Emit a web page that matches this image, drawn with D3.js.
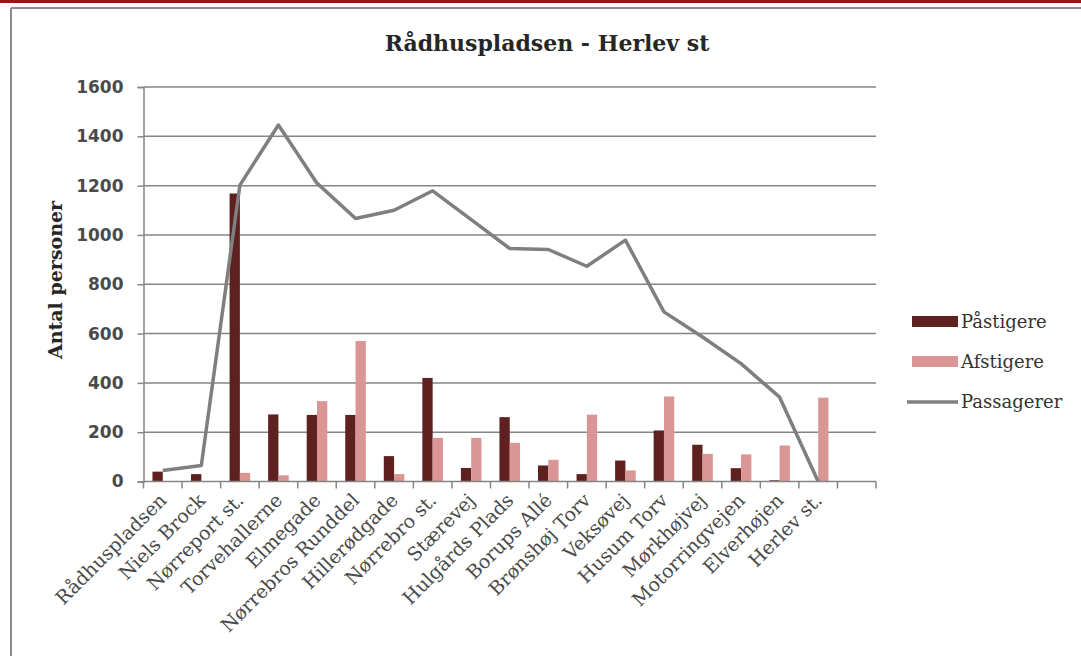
<!DOCTYPE html>
<html>
<head>
<meta charset="utf-8">
<script src="https://cdn.jsdelivr.net/npm/d3@7"></script>
<style>
  body { margin: 0; background: #fff; }
  svg { display: block; }
</style>
</head>
<body>
<script>
// Chart data
const stops = ["Rådhuspladsen", "Niels Brock", "Nørreport st.", "Torvehallerne", "Elmegade",
  "Nørrebros Runddel", "Hillerødgade", "Nørrebro st.", "Stærevej", "Hulgårds Plads",
  "Borups Allé", "Brønshøj Torv", "Veksøvej", "Husum Torv", "Mørkhøjvej",
  "Motorringvejen", "Elverhøjen", "Herlev st.", ""];
const paastigere = [40, 30, 1168, 272, 270, 270, 103, 420, 55, 261, 65, 30, 85, 207, 149, 54, 5, 0, null];
const afstigere = [0, 0, 35, 25, 326, 570, 30, 177, 177, 157, 88, 271, 45, 345, 112, 110, 146, 340, null];
const passagerer = [45, 65, 1202, 1446, 1210, 1067, 1100, 1179, 1062, 945, 941, 873, 979, 688, 586, 478, 342, 0];
const yTicks = [0, 200, 400, 600, 800, 1000, 1200, 1400, 1600];
const seriesNames = ["Påstigere", "Afstigere", "Passagerer"];

const width = 1081;
const height = 656;
const colors = { p: "#5f2020", a: "#d99694", line: "#7f7f7f" };

const svg = d3.select("body")
  .append("svg")
  .attr("width", width)
  .attr("height", height);

// page frame: red band on top, grey box
svg.append("rect").attr("x", 0).attr("y", 0).attr("width", width).attr("height", 3).attr("fill", "#9a1414");
svg.append("line").attr("x1", 11).attr("x2", width).attr("y1", 8).attr("y2", 8)
  .attr("stroke", "#8a8a8a").attr("stroke-width", 2);
svg.append("line").attr("x1", 11).attr("x2", 11).attr("y1", 8).attr("y2", height)
  .attr("stroke", "#8a8a8a").attr("stroke-width", 2);

// Scales
const plotLeft = 143.5, plotRight = 876, plotTop = 87, plotBottom = 481.5;
const x = d3.scaleBand().domain(d3.range(stops.length)).range([plotLeft, plotRight]).padding(0);
const bw = x.bandwidth();
const xSub = d3.scaleBand().domain(["p", "a"]).range([bw / 2 - 10.3, bw / 2 + 10.3]);
const y = d3.scaleLinear().domain([0, 1600]).range([plotBottom, plotTop]);

// Gridlines
svg.append("g")
  .selectAll("line")
  .data(yTicks.filter(d => d > 0))
  .enter()
  .append("line")
  .attr("x1", plotLeft)
  .attr("x2", plotRight)
  .attr("y1", d => y(d))
  .attr("y2", d => y(d))
  .attr("stroke", "#858585")
  .attr("stroke-width", 1.5);

// Y axis
const yAxis = svg.append("g")
  .attr("transform", `translate(${plotLeft},0)`)
  .call(d3.axisLeft(y).tickValues(yTicks).tickFormat(d3.format("d")).tickSize(6).tickPadding(14));
yAxis.select(".domain").attr("stroke", "#858585").attr("stroke-width", 1.5);
yAxis.selectAll(".tick line").attr("stroke", "#858585").attr("stroke-width", 1.5);
yAxis.selectAll(".tick text")
  .attr("font-family", "DejaVu Sans")
  .attr("font-weight", "bold")
  .attr("font-size", 17)
  .attr("fill", "#4a4a4a");

// Bars
const groups = svg.append("g")
  .selectAll("g")
  .data(stops.map((s, i) => ({ i, p: paastigere[i], a: afstigere[i] })))
  .enter()
  .append("g")
  .attr("transform", d => `translate(${x(d.i)},0)`);

groups.selectAll("rect")
  .data(d => ["p", "a"].filter(k => d[k] != null).map(k => ({ k, v: d[k] })))
  .enter()
  .append("rect")
  .attr("x", d => xSub(d.k))
  .attr("width", xSub.bandwidth())
  .attr("y", d => y(d.v))
  .attr("height", d => plotBottom - y(d.v))
  .attr("fill", d => colors[d.k]);

// X axis with ticks between categories
const xAxis = svg.append("g");
xAxis.append("line")
  .attr("x1", plotLeft).attr("x2", plotRight)
  .attr("y1", plotBottom).attr("y2", plotBottom)
  .attr("stroke", "#858585").attr("stroke-width", 1.5);
xAxis.selectAll(".xt")
  .data(d3.range(stops.length + 1))
  .enter()
  .append("line")
  .attr("class", "xt")
  .attr("x1", d => plotLeft + d * bw)
  .attr("x2", d => plotLeft + d * bw)
  .attr("y1", plotBottom)
  .attr("y2", plotBottom + 7)
  .attr("stroke", "#858585")
  .attr("stroke-width", 1.5);

xAxis.selectAll(".xl")
  .data(stops.map((s, i) => ({ s, i })))
  .enter()
  .append("text")
  .attr("class", "xl")
  .attr("transform", d => `translate(${x(d.i) + bw / 2 + 5},${plotBottom + 20}) rotate(-45)`)
  .attr("text-anchor", "end")
  .attr("font-family", "DejaVu Serif")
  .attr("font-size", 19)
  .attr("fill", "#4a4a4a")
  .text(d => d.s);

// Passagerer line
const line = d3.line()
  .x((d, i) => x(i) + bw / 2)
  .y(d => y(d));

svg.append("path")
  .datum(passagerer)
  .attr("fill", "none")
  .attr("stroke", colors.line)
  .attr("stroke-width", 3.5)
  .attr("stroke-linejoin", "round")
  .attr("d", line);

// Title
svg.append("text")
  .attr("x", 547)
  .attr("y", 51)
  .attr("text-anchor", "middle")
  .attr("font-family", "DejaVu Serif")
  .attr("font-weight", "bold")
  .attr("font-size", 22)
  .attr("fill", "#262626")
  .text("Rådhuspladsen - Herlev st");

// Y axis title
svg.append("text")
  .attr("transform", "translate(62,280) rotate(-90)")
  .attr("text-anchor", "middle")
  .attr("font-family", "DejaVu Serif")
  .attr("font-weight", "bold")
  .attr("font-size", 19)
  .attr("fill", "#262626")
  .text("Antal personer");

// Legend
const legend = svg.append("g").attr("transform", "translate(910,322)");
const legendItems = legend.selectAll("g")
  .data(seriesNames)
  .enter()
  .append("g")
  .attr("transform", (d, i) => `translate(0,${i * 40})`);

legendItems.filter((d, i) => i < 2)
  .append("rect")
  .attr("x", 2)
  .attr("y", -6)
  .attr("width", 46)
  .attr("height", 11)
  .attr("fill", (d, i) => i === 0 ? colors.p : colors.a);

legendItems.filter((d, i) => i === 2)
  .append("line")
  .attr("x1", -3)
  .attr("x2", 48)
  .attr("y1", 0)
  .attr("y2", 0)
  .attr("stroke", colors.line)
  .attr("stroke-width", 3.5);

legendItems.append("text")
  .attr("x", 51)
  .attr("y", 0)
  .attr("dy", "0.35em")
  .attr("font-family", "DejaVu Serif")
  .attr("font-size", 18)
  .attr("fill", "#333")
  .text(d => d);
</script>
</body>
</html>
